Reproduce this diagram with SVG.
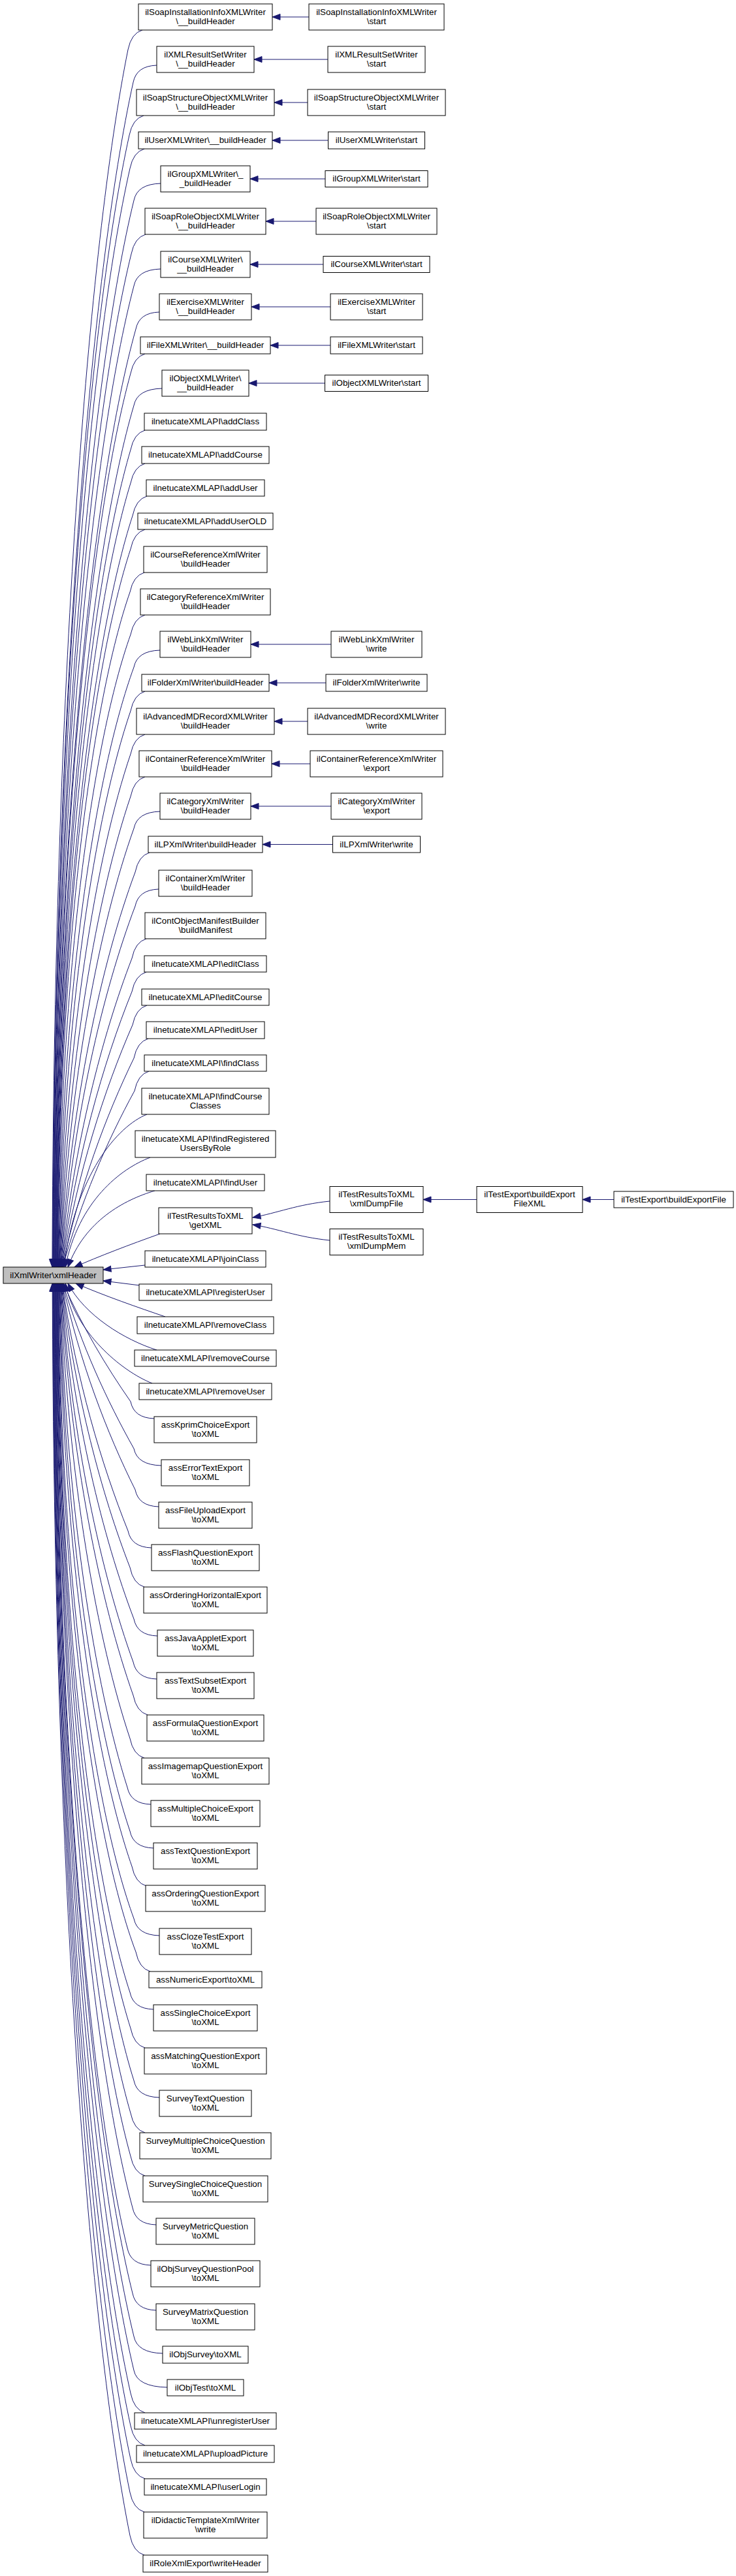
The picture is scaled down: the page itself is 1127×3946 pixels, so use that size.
<svg xmlns="http://www.w3.org/2000/svg" width="1127" height="3946" viewBox="0 0 1127 3946">
<style>
rect{fill:#fff;stroke:#000;stroke-width:1}
#n0 rect{fill:#bfbfbf}
text{font-family:"Liberation Sans",Arial,Helvetica,sans-serif;font-size:13.33px;text-anchor:middle;fill:#000}
#edges path{fill:none;stroke:#191970;stroke-width:1;marker-end:url(#ah)}
</style>
<defs>
<marker id="ah" viewBox="-14 -6 15 12" refX="0" refY="0" markerWidth="15" markerHeight="12" markerUnits="userSpaceOnUse" orient="auto">
<path d="M0,0 L-12,-4.5 L-12,4.5 Z" fill="#191970" stroke="#191970" stroke-width="1"/>
</marker>
</defs>
<rect x="0" y="0" width="1127" height="3946" style="fill:#fff;stroke:none"/>
<g id="edges">
<path d="M218,46 Q201,51 196,76 C136,374 82,1046 80,1941"/>
<path d="M240,100 Q209,101 204,126 C140,416 83.5,1070 80.6,1941"/>
<path d="M220,177 Q203,182 198,207 C137,484 83,1109 81.2,1941"/>
<path d="M221,228 Q204,233 199,258 C138,527 84,1133 81.8,1941"/>
<path d="M246,281 Q210,282 205,307 C141.2,568 84.9,1157 82.4,1941"/>
<path d="M223,359 Q206,364 201,389 C140,637 85,1196 83,1941"/>
<path d="M246,412 Q210,413 205,438 C141.9,678 86,1220 83.6,1941"/>
<path d="M244,478 Q213,479 208,504 C143.6,734 86.7,1251 84.2,1941"/>
<path d="M222,542 Q205,547 200,572 C140,791 87,1284 84.8,1941"/>
<path d="M248,595 Q210,596 205,621 C142.8,832 87.8,1307 85.4,1941"/>
<path d="M222,659 Q205,664 200,689 C141,889 88,1340 86,1941"/>
<path d="M222,710 Q205,715 200,740 C141,932 89,1365 86.6,1941"/>
<path d="M225,760 Q208,765 203,790 C143,974 89.5,1389 87.2,1941"/>
<path d="M222,811 Q205,816 200,841 C142,1017 90,1413 87.8,1941"/>
<path d="M221,877 Q204,882 199,907 C141.5,1072 90.6,1445 88.4,1941"/>
<path d="M222,942 Q205,947 200,972 C143,1132 92.3,1481 89,1941"/>
<path d="M245,996 Q210,997 205,1022 C146.7,1182 94.8,1511 89.6,1941"/>
<path d="M222,1059 Q205,1064 200,1089 C146,1247 97.4,1551 90.2,1941"/>
<path d="M222,1125 Q205,1130 200,1155 C147.7,1309 100.2,1589 90.8,1941"/>
<path d="M222,1190 Q205,1195 200,1220 C149.3,1369.5 103,1625 91.4,1941"/>
<path d="M245,1243 Q210,1244 205,1269 C153.2,1414 105.8,1652 92,1941"/>
<path d="M229,1306 Q212,1311 207,1336 C156,1473 108.9,1686 92.6,1941"/>
<path d="M243,1362 Q212,1363 207,1388 C157.5,1518.5 111.3,1713 93.2,1941"/>
<path d="M224,1438 Q207,1443 202,1468 C156.6,1586 113.6,1751 93.8,1941"/>
<path d="M224,1489 Q207,1494 202,1519 C158,1628 115.8,1775 94.4,1941"/>
<path d="M225,1540 Q208,1545 203,1570 C159.7,1669 118.2,1798 95,1941"/>
<path d="M227,1591 Q210,1596 205,1621 C162.2,1709 120.9,1820 95.6,1941"/>
<path d="M228,1641 Q211,1646 206,1671 C164,1748 123.2,1841 96.2,1941"/>
<path d="M225,1707 C180,1725 115,1800 98,1941"/>
<path d="M230,1773 C185,1790 120,1840 100,1941"/>
<path d="M237,1824 C190,1838 130,1870 104,1941"/>
<path d="M245,1890 C200,1906 150,1925 114,1941"/>
<path d="M222,1938 L158,1945"/>
<path d="M214,1969 L158,1962"/>
<path d="M253,2017 C212,2003 160,1985 116,1966"/>
<path d="M240,2068 C190,2052 130,2015 104,1966"/>
<path d="M233,2119 C185,2100 115,2040 100,1966"/>
<path d="M236,2173 Q205,2172 200,2147 C162.5,2093 125.2,2031 97,1966"/>
<path d="M247,2245 Q210,2244 205,2219 C164,2146 123.8,2059 96.4,1966"/>
<path d="M243,2308 Q212,2307 207,2282 C163.6,2195 121.6,2085 95.8,1966"/>
<path d="M232,2371 Q201,2370 196,2345 C155.5,2244 116.7,2113 95.2,1966"/>
<path d="M221,2431 Q204,2426 199,2401 C155.9,2290 115,2138 94.6,1966"/>
<path d="M241,2506 Q210,2505 205,2480 C157.5,2355 113,2175 94,1966"/>
<path d="M240,2572 Q209,2571 204,2546 C155.3,2412 110,2208 93.4,1966"/>
<path d="M226,2627 Q209,2622 204,2597 C154,2456 107.7,2234 92.8,1966"/>
<path d="M221,2693 Q204,2688 199,2663 C149.6,2515 104.4,2269 92.2,1966"/>
<path d="M231,2764 Q200,2763 195,2738 C145.7,2584 101,2310 91.6,1966"/>
<path d="M235,2831 Q204,2830 199,2805 C146.2,2648 98.6,2349 91,1966"/>
<path d="M224,2889 Q207,2884 202,2859 C146.2,2700 96.3,2380 90.4,1966"/>
<path d="M244,2965 Q210,2964 205,2939 C146,2778.5 93,2429 89.8,1966"/>
<path d="M230,3020 Q213,3015 208,2990 C146.2,2826 91.6,2457.5 89.2,1966"/>
<path d="M235,3078 Q204,3077 199,3052 C141.6,2878 90.8,2487 88.6,1966"/>
<path d="M222,3137 Q205,3132 200,3107 C141.8,2924 90.2,2514 88,1966"/>
<path d="M244,3213 Q210,3212 205,3187 C143.7,2992 89.7,2552 87.4,1966"/>
<path d="M222,3267 Q205,3262 200,3237 C141.1,3034 89,2576 86.8,1966"/>
<path d="M222,3333 Q205,3328 200,3303 C140.8,3089 88.5,2608 86.2,1966"/>
<path d="M239,3408 Q208,3407 203,3382 C142,3155 88,2646 85.6,1966"/>
<path d="M231,3470 Q200,3469 195,3444 C137.8,3207.5 87.2,2675 85,1966"/>
<path d="M239,3539 Q208,3538 203,3513 C141.3,3265.5 86.8,2708.6 84.4,1966"/>
<path d="M249,3605 Q210,3604 205,3579 C142,3321 86.2,2740 83.8,1966"/>
<path d="M256,3657 Q210,3656 205,3631 C141.7,3364.6 85.6,2765 83.2,1966"/>
<path d="M222,3696 Q205,3691 200,3666 C139,3394 85,2782 82.6,1966"/>
<path d="M222,3746 Q205,3741 200,3716 C138.6,3436 84.4,2806 82,1966"/>
<path d="M222,3797 Q205,3792 200,3767 C138.3,3479 83.8,2830.5 81.4,1966"/>
<path d="M221,3848 Q204,3843 199,3818 C137.5,3522 83.2,2855 80.8,1966"/>
<path d="M221,3914 Q204,3909 199,3884 C137.2,3577 82.6,2886.6 80.2,1966"/>
<path d="M473,26 L417,26"/>
<path d="M502,91 L389,91"/>
<path d="M471,157 L420,157"/>
<path d="M502.5,215 L417,215"/>
<path d="M498,274 L383,274"/>
<path d="M484,339 L407,339"/>
<path d="M495,405 L383,405"/>
<path d="M506,470 L385,470"/>
<path d="M506,529 L414,529"/>
<path d="M497.5,587 L381,587"/>
<path d="M507,987 L384,987"/>
<path d="M499,1046 L412,1046"/>
<path d="M471,1105 L420,1105"/>
<path d="M475,1170 L416,1170"/>
<path d="M507,1235 L384,1235"/>
<path d="M509.5,1293.5 L402,1293.5"/>
<path d="M505,1840 C455,1845 425,1858 387,1865"/>
<path d="M505,1900 C455,1895 425,1882 387,1876"/>
<path d="M730,1837.5 L648,1837.5"/>
<path d="M940,1837.5 L892,1837.5"/>
</g>
<g id="n0"><rect x="5" y="1941" width="153" height="25"/><text x="81.5" y="1957.5">ilXmlWriter\xmlHeader</text></g>
<g id="n1"><rect x="212" y="6" width="205" height="40"/><text x="314.5" y="22.5">ilSoapInstallationInfoXMLWriter</text><text x="314.5" y="36.7">\__buildHeader</text></g>
<g id="n2"><rect x="240" y="71" width="149" height="40"/><text x="314.5" y="87.5">ilXMLResultSetWriter</text><text x="314.5" y="101.7">\__buildHeader</text></g>
<g id="n3"><rect x="209" y="137" width="211" height="40"/><text x="314.5" y="153.5">ilSoapStructureObjectXMLWriter</text><text x="314.5" y="167.7">\__buildHeader</text></g>
<g id="n4"><rect x="212" y="202" width="205" height="26"/><text x="314.5" y="219">ilUserXMLWriter\__buildHeader</text></g>
<g id="n5"><rect x="246" y="254" width="137" height="40"/><text x="314.5" y="270.5">ilGroupXMLWriter\_</text><text x="314.5" y="284.7">_buildHeader</text></g>
<g id="n6"><rect x="222" y="319" width="185" height="40"/><text x="314.5" y="335.5">ilSoapRoleObjectXMLWriter</text><text x="314.5" y="349.7">\__buildHeader</text></g>
<g id="n7"><rect x="246" y="385" width="137" height="40"/><text x="314.5" y="401.5">ilCourseXMLWriter\</text><text x="314.5" y="415.7">__buildHeader</text></g>
<g id="n8"><rect x="244" y="450" width="141" height="40"/><text x="314.5" y="466.5">ilExerciseXMLWriter</text><text x="314.5" y="480.7">\__buildHeader</text></g>
<g id="n9"><rect x="215" y="516" width="199" height="26"/><text x="314.5" y="533">ilFileXMLWriter\__buildHeader</text></g>
<g id="n10"><rect x="248" y="567" width="133" height="40"/><text x="314.5" y="583.5">ilObjectXMLWriter\</text><text x="314.5" y="597.7">__buildHeader</text></g>
<g id="n11"><rect x="221" y="633" width="187" height="26"/><text x="314.5" y="650">ilnetucateXMLAPI\addClass</text></g>
<g id="n12"><rect x="217" y="684" width="195" height="26"/><text x="314.5" y="701">ilnetucateXMLAPI\addCourse</text></g>
<g id="n13"><rect x="224" y="735" width="181" height="25"/><text x="314.5" y="751.5">ilnetucateXMLAPI\addUser</text></g>
<g id="n14"><rect x="211" y="786" width="207" height="25"/><text x="314.5" y="802.5">ilnetucateXMLAPI\addUserOLD</text></g>
<g id="n15"><rect x="220" y="837" width="189" height="40"/><text x="314.5" y="853.5">ilCourseReferenceXmlWriter</text><text x="314.5" y="867.7">\buildHeader</text></g>
<g id="n16"><rect x="215" y="902" width="199" height="40"/><text x="314.5" y="918.5">ilCategoryReferenceXmlWriter</text><text x="314.5" y="932.7">\buildHeader</text></g>
<g id="n17"><rect x="245" y="967" width="139" height="40"/><text x="314.5" y="983.5">ilWebLinkXmlWriter</text><text x="314.5" y="997.7">\buildHeader</text></g>
<g id="n18"><rect x="217" y="1033" width="195" height="26"/><text x="314.5" y="1050">ilFolderXmlWriter\buildHeader</text></g>
<g id="n19"><rect x="209" y="1085" width="211" height="40"/><text x="314.5" y="1101.5">ilAdvancedMDRecordXMLWriter</text><text x="314.5" y="1115.7">\buildHeader</text></g>
<g id="n20"><rect x="213" y="1150" width="203" height="40"/><text x="314.5" y="1166.5">ilContainerReferenceXmlWriter</text><text x="314.5" y="1180.7">\buildHeader</text></g>
<g id="n21"><rect x="245" y="1215" width="139" height="40"/><text x="314.5" y="1231.5">ilCategoryXmlWriter</text><text x="314.5" y="1245.7">\buildHeader</text></g>
<g id="n22"><rect x="227" y="1281" width="175" height="25"/><text x="314.5" y="1297.5">ilLPXmlWriter\buildHeader</text></g>
<g id="n23"><rect x="243" y="1333" width="143" height="40"/><text x="314.5" y="1349.5">ilContainerXmlWriter</text><text x="314.5" y="1363.7">\buildHeader</text></g>
<g id="n24"><rect x="222" y="1398" width="185" height="40"/><text x="314.5" y="1414.5">ilContObjectManifestBuilder</text><text x="314.5" y="1428.7">\buildManifest</text></g>
<g id="n25"><rect x="221" y="1464" width="187" height="25"/><text x="314.5" y="1480.5">ilnetucateXMLAPI\editClass</text></g>
<g id="n26"><rect x="217" y="1515" width="195" height="25"/><text x="314.5" y="1531.5">ilnetucateXMLAPI\editCourse</text></g>
<g id="n27"><rect x="224" y="1565" width="181" height="26"/><text x="314.5" y="1582">ilnetucateXMLAPI\editUser</text></g>
<g id="n28"><rect x="221" y="1616" width="187" height="25"/><text x="314.5" y="1632.5">ilnetucateXMLAPI\findClass</text></g>
<g id="n29"><rect x="217" y="1667" width="195" height="40"/><text x="314.5" y="1683.5">ilnetucateXMLAPI\findCourse</text><text x="314.5" y="1697.7">Classes</text></g>
<g id="n30"><rect x="207" y="1732" width="215" height="41"/><text x="314.5" y="1748.5">ilnetucateXMLAPI\findRegistered</text><text x="314.5" y="1762.7">UsersByRole</text></g>
<g id="n31"><rect x="224" y="1799" width="181" height="25"/><text x="314.5" y="1815.5">ilnetucateXMLAPI\findUser</text></g>
<g id="n32"><rect x="243" y="1850" width="143" height="40"/><text x="314.5" y="1866.5">ilTestResultsToXML</text><text x="314.5" y="1880.7">\getXML</text></g>
<g id="n33"><rect x="222" y="1916" width="185" height="25"/><text x="314.5" y="1932.5">ilnetucateXMLAPI\joinClass</text></g>
<g id="n34"><rect x="213" y="1967" width="203" height="25"/><text x="314.5" y="1983.5">ilnetucateXMLAPI\registerUser</text></g>
<g id="n35"><rect x="210" y="2017" width="209" height="26"/><text x="314.5" y="2034">ilnetucateXMLAPI\removeClass</text></g>
<g id="n36"><rect x="206" y="2068" width="217" height="25"/><text x="314.5" y="2084.5">ilnetucateXMLAPI\removeCourse</text></g>
<g id="n37"><rect x="213" y="2119" width="203" height="25"/><text x="314.5" y="2135.5">ilnetucateXMLAPI\removeUser</text></g>
<g id="n38"><rect x="236" y="2170" width="157" height="40"/><text x="314.5" y="2186.5">assKprimChoiceExport</text><text x="314.5" y="2200.7">\toXML</text></g>
<g id="n39"><rect x="247" y="2236" width="135" height="40"/><text x="314.5" y="2252.5">assErrorTextExport</text><text x="314.5" y="2266.7">\toXML</text></g>
<g id="n40"><rect x="243" y="2301" width="143" height="40"/><text x="314.5" y="2317.5">assFileUploadExport</text><text x="314.5" y="2331.7">\toXML</text></g>
<g id="n41"><rect x="232" y="2366" width="165" height="40"/><text x="314.5" y="2382.5">assFlashQuestionExport</text><text x="314.5" y="2396.7">\toXML</text></g>
<g id="n42"><rect x="220" y="2431" width="189" height="40"/><text x="314.5" y="2447.5">assOrderingHorizontalExport</text><text x="314.5" y="2461.7">\toXML</text></g>
<g id="n43"><rect x="241" y="2497" width="147" height="40"/><text x="314.5" y="2513.5">assJavaAppletExport</text><text x="314.5" y="2527.7">\toXML</text></g>
<g id="n44"><rect x="240" y="2562" width="149" height="40"/><text x="314.5" y="2578.5">assTextSubsetExport</text><text x="314.5" y="2592.7">\toXML</text></g>
<g id="n45"><rect x="225" y="2627" width="179" height="40"/><text x="314.5" y="2643.5">assFormulaQuestionExport</text><text x="314.5" y="2657.7">\toXML</text></g>
<g id="n46"><rect x="217" y="2693" width="195" height="40"/><text x="314.5" y="2709.5">assImagemapQuestionExport</text><text x="314.5" y="2723.7">\toXML</text></g>
<g id="n47"><rect x="231" y="2758" width="167" height="40"/><text x="314.5" y="2774.5">assMultipleChoiceExport</text><text x="314.5" y="2788.7">\toXML</text></g>
<g id="n48"><rect x="235" y="2823" width="159" height="40"/><text x="314.5" y="2839.5">assTextQuestionExport</text><text x="314.5" y="2853.7">\toXML</text></g>
<g id="n49"><rect x="223" y="2888" width="183" height="40"/><text x="314.5" y="2904.5">assOrderingQuestionExport</text><text x="314.5" y="2918.7">\toXML</text></g>
<g id="n50"><rect x="244" y="2954" width="141" height="40"/><text x="314.5" y="2970.5">assClozeTestExport</text><text x="314.5" y="2984.7">\toXML</text></g>
<g id="n51"><rect x="228" y="3020" width="173" height="25"/><text x="314.5" y="3036.5">assNumericExport\toXML</text></g>
<g id="n52"><rect x="235" y="3071" width="159" height="40"/><text x="314.5" y="3087.5">assSingleChoiceExport</text><text x="314.5" y="3101.7">\toXML</text></g>
<g id="n53"><rect x="221" y="3137" width="187" height="40"/><text x="314.5" y="3153.5">assMatchingQuestionExport</text><text x="314.5" y="3167.7">\toXML</text></g>
<g id="n54"><rect x="244" y="3202" width="141" height="40"/><text x="314.5" y="3218.5">SurveyTextQuestion</text><text x="314.5" y="3232.7">\toXML</text></g>
<g id="n55"><rect x="214" y="3267" width="201" height="40"/><text x="314.5" y="3283.5">SurveyMultipleChoiceQuestion</text><text x="314.5" y="3297.7">\toXML</text></g>
<g id="n56"><rect x="219" y="3333" width="191" height="40"/><text x="314.5" y="3349.5">SurveySingleChoiceQuestion</text><text x="314.5" y="3363.7">\toXML</text></g>
<g id="n57"><rect x="239" y="3398" width="151" height="40"/><text x="314.5" y="3414.5">SurveyMetricQuestion</text><text x="314.5" y="3428.7">\toXML</text></g>
<g id="n58"><rect x="231" y="3463" width="167" height="40"/><text x="314.5" y="3479.5">ilObjSurveyQuestionPool</text><text x="314.5" y="3493.7">\toXML</text></g>
<g id="n59"><rect x="239" y="3529" width="151" height="40"/><text x="314.5" y="3545.5">SurveyMatrixQuestion</text><text x="314.5" y="3559.7">\toXML</text></g>
<g id="n60"><rect x="249" y="3594" width="131" height="26"/><text x="314.5" y="3611">ilObjSurvey\toXML</text></g>
<g id="n61"><rect x="256" y="3645" width="117" height="25"/><text x="314.5" y="3661.5">ilObjTest\toXML</text></g>
<g id="n62"><rect x="206" y="3696" width="217" height="25"/><text x="314.5" y="3712.5">ilnetucateXMLAPI\unregisterUser</text></g>
<g id="n63"><rect x="209" y="3746" width="211" height="26"/><text x="314.5" y="3763">ilnetucateXMLAPI\uploadPicture</text></g>
<g id="n64"><rect x="221" y="3797" width="187" height="25"/><text x="314.5" y="3813.5">ilnetucateXMLAPI\userLogin</text></g>
<g id="n65"><rect x="220" y="3848" width="189" height="40"/><text x="314.5" y="3864.5">ilDidacticTemplateXmlWriter</text><text x="314.5" y="3878.7">\write</text></g>
<g id="n66"><rect x="219" y="3914" width="191" height="26"/><text x="314.5" y="3931">ilRoleXmlExport\writeHeader</text></g>
<g id="m1"><rect x="473" y="6" width="207" height="40"/><text x="576.5" y="22.5">ilSoapInstallationInfoXMLWriter</text><text x="576.5" y="36.7">\start</text></g>
<g id="m2"><rect x="502" y="71" width="149" height="40"/><text x="576.5" y="87.5">ilXMLResultSetWriter</text><text x="576.5" y="101.7">\start</text></g>
<g id="m3"><rect x="471" y="137" width="211" height="40"/><text x="576.5" y="153.5">ilSoapStructureObjectXMLWriter</text><text x="576.5" y="167.7">\start</text></g>
<g id="m4"><rect x="502.5" y="202" width="148" height="26"/><text x="576.5" y="219">ilUserXMLWriter\start</text></g>
<g id="m5"><rect x="498" y="261.5" width="157" height="25"/><text x="576.5" y="278">ilGroupXMLWriter\start</text></g>
<g id="m6"><rect x="484" y="319" width="185" height="40"/><text x="576.5" y="335.5">ilSoapRoleObjectXMLWriter</text><text x="576.5" y="349.7">\start</text></g>
<g id="m7"><rect x="495" y="392.5" width="163" height="25"/><text x="576.5" y="409">ilCourseXMLWriter\start</text></g>
<g id="m8"><rect x="506" y="450" width="141" height="40"/><text x="576.5" y="466.5">ilExerciseXMLWriter</text><text x="576.5" y="480.7">\start</text></g>
<g id="m9"><rect x="506" y="516" width="141" height="26"/><text x="576.5" y="533">ilFileXMLWriter\start</text></g>
<g id="m10"><rect x="497.5" y="574.5" width="158" height="25"/><text x="576.5" y="591">ilObjectXMLWriter\start</text></g>
<g id="m17"><rect x="507" y="967" width="139" height="40"/><text x="576.5" y="983.5">ilWebLinkXmlWriter</text><text x="576.5" y="997.7">\write</text></g>
<g id="m18"><rect x="499" y="1033" width="155" height="26"/><text x="576.5" y="1050">ilFolderXmlWriter\write</text></g>
<g id="m19"><rect x="471" y="1085" width="211" height="40"/><text x="576.5" y="1101.5">ilAdvancedMDRecordXMLWriter</text><text x="576.5" y="1115.7">\write</text></g>
<g id="m20"><rect x="475" y="1150" width="203" height="40"/><text x="576.5" y="1166.5">ilContainerReferenceXmlWriter</text><text x="576.5" y="1180.7">\export</text></g>
<g id="m21"><rect x="507" y="1215" width="139" height="40"/><text x="576.5" y="1231.5">ilCategoryXmlWriter</text><text x="576.5" y="1245.7">\export</text></g>
<g id="m22"><rect x="509.5" y="1281" width="134" height="25"/><text x="576.5" y="1297.5">ilLPXmlWriter\write</text></g>
<g id="t1"><rect x="505" y="1817.5" width="143" height="40"/><text x="576.5" y="1834">ilTestResultsToXML</text><text x="576.5" y="1848.2">\xmlDumpFile</text></g>
<g id="t2"><rect x="505" y="1882.5" width="143" height="40"/><text x="576.5" y="1899">ilTestResultsToXML</text><text x="576.5" y="1913.2">\xmlDumpMem</text></g>
<g id="q1"><rect x="730" y="1817.5" width="162" height="40"/><text x="811" y="1834">ilTestExport\buildExport</text><text x="811" y="1848.2">FileXML</text></g>
<g id="q2"><rect x="940" y="1825" width="183" height="25"/><text x="1031.5" y="1841.5">ilTestExport\buildExportFile</text></g>
</svg>
